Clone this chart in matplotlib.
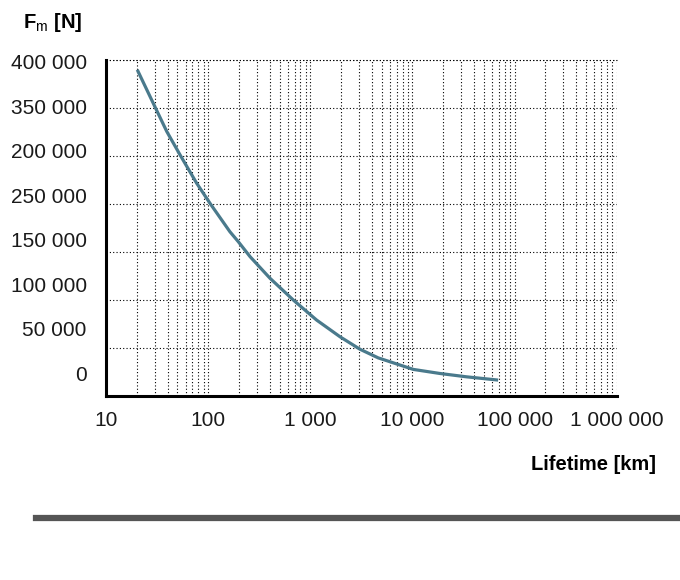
import numpy as np
import matplotlib
matplotlib.use('Agg')
import matplotlib.pyplot as plt
from matplotlib.ticker import LogLocator, NullFormatter

plt.rcParams['font.family'] = ['Liberation Sans', 'DejaVu Sans']
plt.rcParams['mathtext.fontset'] = 'custom'
plt.rcParams['mathtext.rm'] = 'Liberation Sans'
plt.rcParams['mathtext.bf'] = 'Liberation Sans:bold'

# curve
lifetime_km = [20.2, 30.1, 39.3, 53, 77, 104, 163, 197, 257, 403, 681, 1150,
               1950, 3060, 4620, 10200, 18500, 33800, 69000]
force_n = [339600, 301000, 275300, 251000, 221600, 200700, 171100, 160700,
           145100, 122600, 100000, 79200, 61800, 48800, 39800,
           27800, 23600, 20100, 16700]

# axis labels as printed on the chart
x_ticks = [10, 100, 1000, 10000, 100000, 1000000]
x_labels = ['10', '100', '1 000', '10 000', '100 000', '1 000 000']
y_grid = [0, 50000, 100000, 150000, 200000, 250000, 300000, 350000]
y_labels = ['0', '50 000', '100 000', '150 000', '250 000', '200 000', '350 000', '400 000']

fig = plt.figure(figsize=(6.8, 5.8), dpi=100)
ax = fig.add_axes([0.156, 0.317, 0.751, 0.580])

ax.plot(lifetime_km, force_n, color='#4a7a8c', lw=2.3, solid_capstyle='butt',
        solid_joinstyle='round', zorder=3)

ax.set_xscale('log')
ax.set_xlim(10, 1.0e6)
ax.set_ylim(0, 350000)

ax.set_xticks(x_ticks, labels=x_labels)
ax.xaxis.set_minor_locator(LogLocator(base=10, subs=np.arange(2, 10)))
ax.xaxis.set_minor_formatter(NullFormatter())

# grid lines on the major y ticks, printed labels on minor ticks
ax.set_yticks(y_grid, labels=[''] * len(y_grid))
label_pos = np.linspace(24000, 348000, len(y_labels))
ax.set_yticks(label_pos, labels=y_labels, minor=True)

dot = (0, (1, 2))
ax.grid(True, axis='x', which='both', color='black', lw=0.8, ls=dot)
ax.grid(True, axis='y', which='major', color='black', lw=0.8, ls=dot)
ax.axhline(350000, color='black', lw=0.8, ls=dot, clip_on=False)

ax.tick_params(axis='both', which='both', length=0, labelsize=15, labelcolor='#1a1a1a')
ax.tick_params(axis='y', which='both', pad=14)
ax.tick_params(axis='x', which='both', pad=11)

for s in ['top', 'right']:
    ax.spines[s].set_visible(False)
for s in ['left', 'bottom']:
    ax.spines[s].set_linewidth(2.2)
    ax.spines[s].set_color('black')

fig.text(0.034, 0.962, r'$\mathbf{F}_{\mathrm{m}}$ [N]', fontsize=14.5, fontweight='bold',
         va='center', ha='left')
fig.text(0.964, 0.199, 'Lifetime [km]', fontsize=14.5, fontweight='bold',
         va='center', ha='right')

fig.add_artist(plt.Line2D([0.053, 1.0], [0.107, 0.107], color='#555555', lw=4.5,
                          transform=fig.transFigure))

fig.savefig('out.png', dpi=100)
